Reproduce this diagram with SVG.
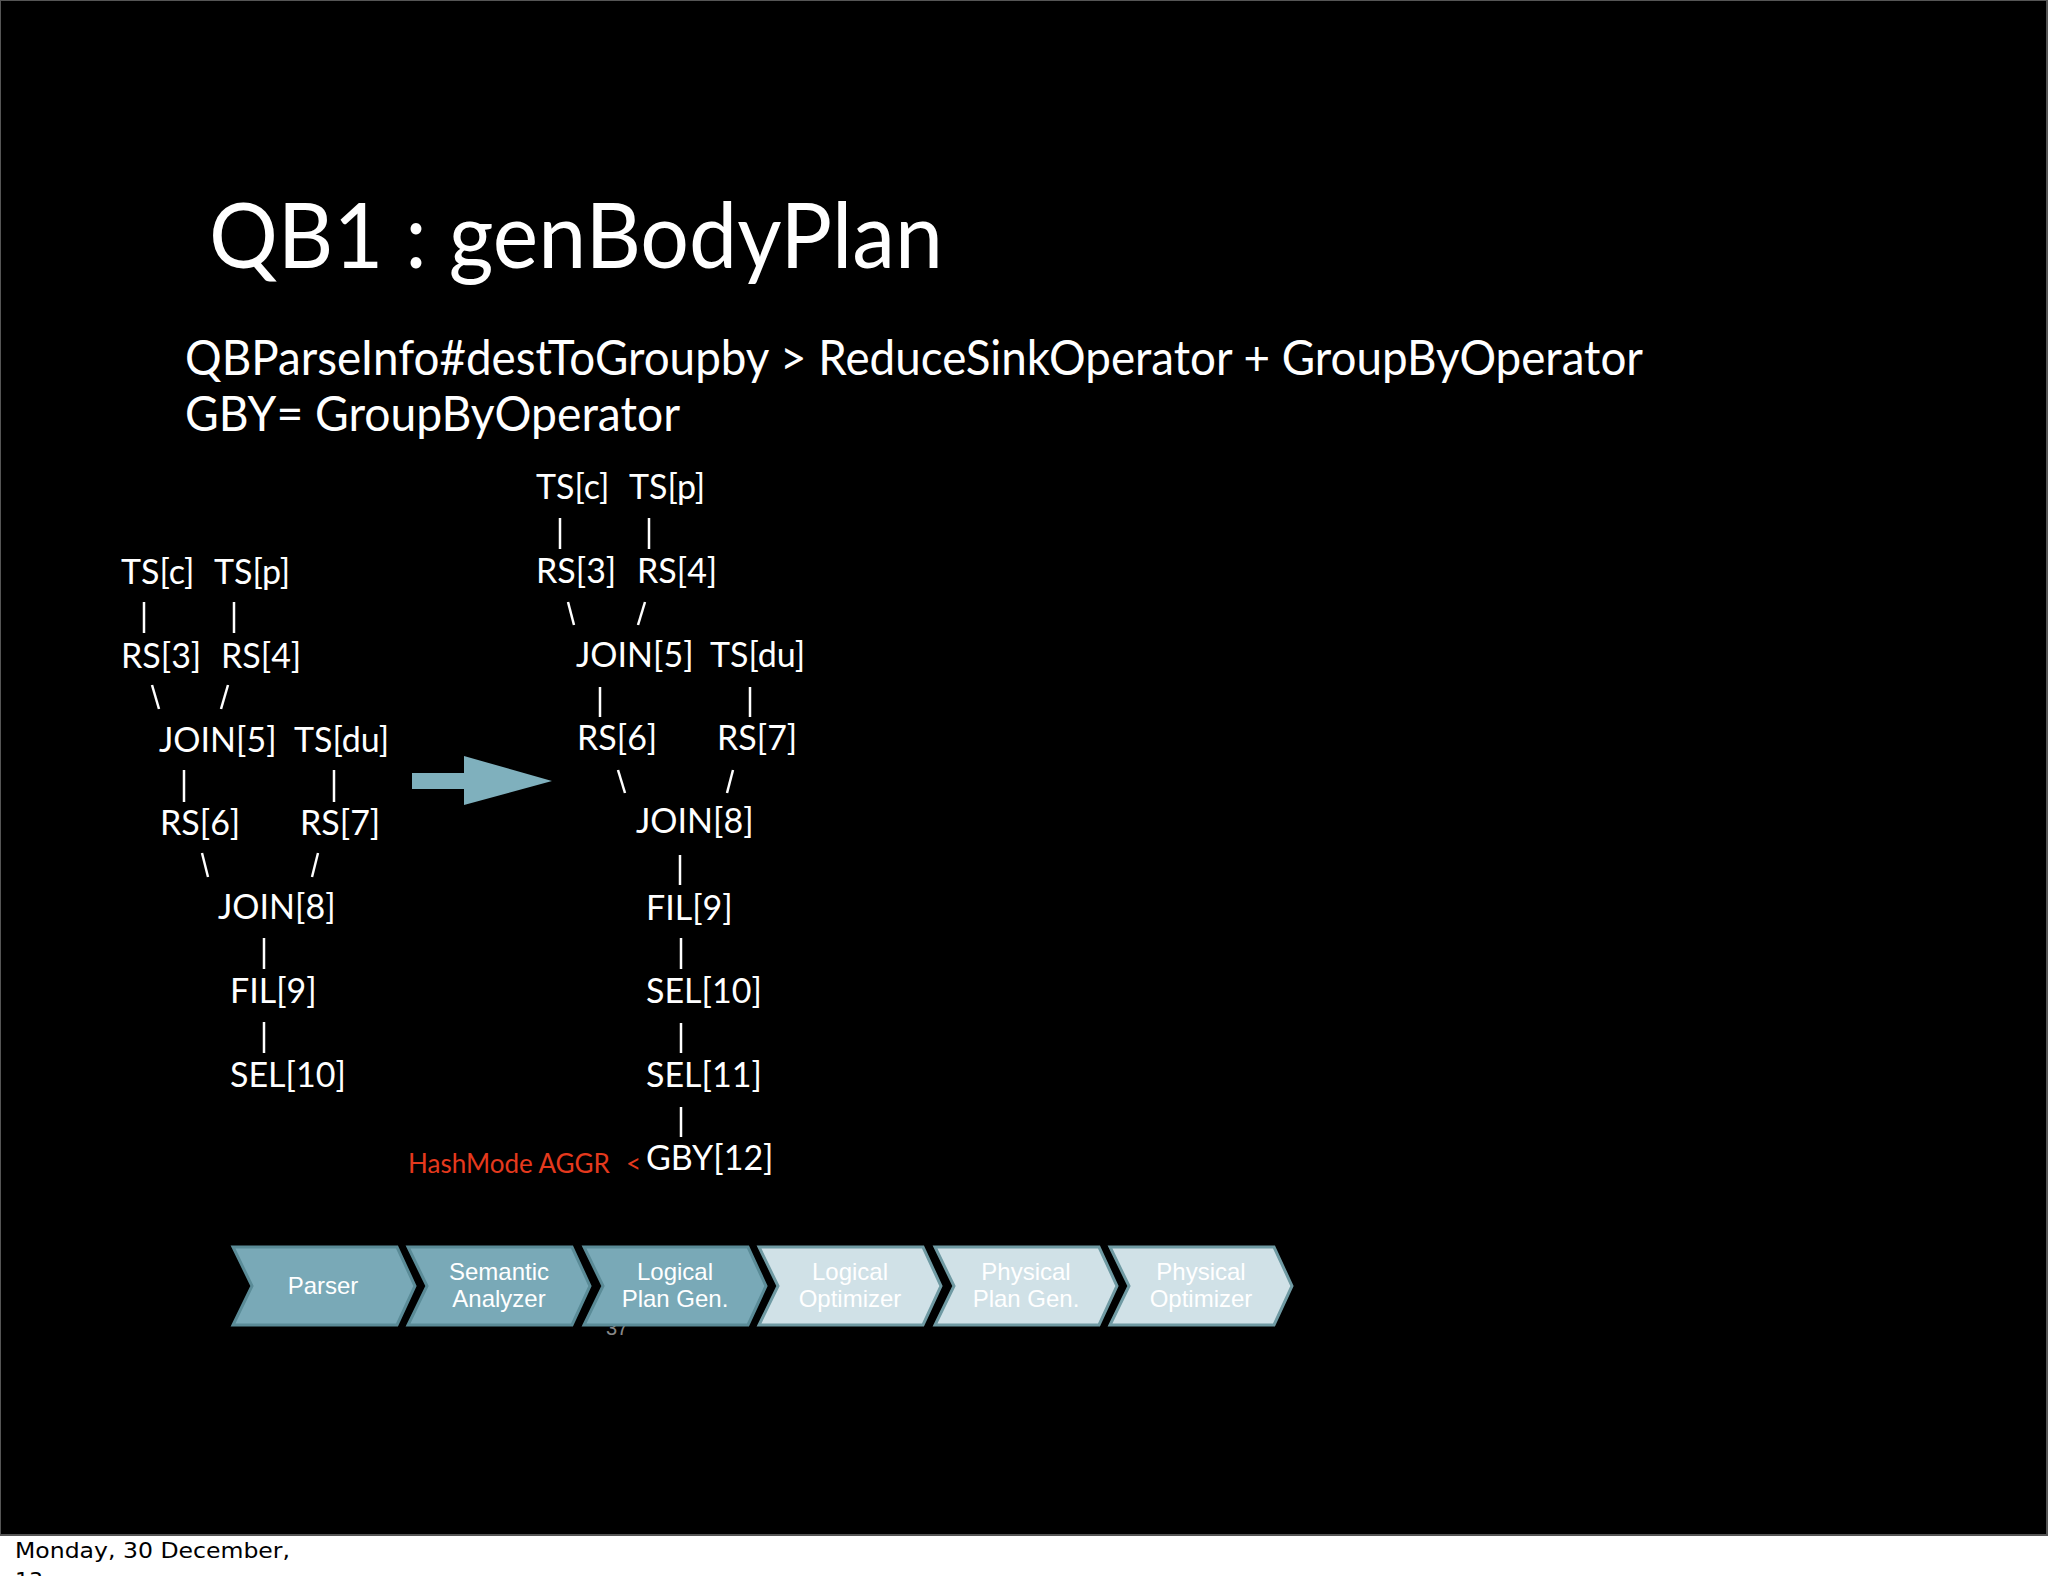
<svg xmlns="http://www.w3.org/2000/svg" width="2048" height="1576" viewBox="0 0 2048 1576">
<style>
.t{font-family:Lato,"Open Sans","DejaVu Sans",sans-serif;fill:#ffffff}
.n{font-family:Lato,"Open Sans","DejaVu Sans",sans-serif;fill:#ffffff;font-size:34px}
.c{stroke:#ffffff;stroke-width:2.5;fill:none}
.cd{fill:#79a9b7;stroke:#5a8b97;stroke-width:3}
.cl{fill:#d0e1e7;stroke:#6f9aa3;stroke-width:3}
.cx{font-family:"Liberation Sans",Arial,sans-serif;font-size:24px;fill:#ffffff;text-anchor:middle}
.red{font-family:Lato,"Open Sans",sans-serif;font-size:26px;fill:#e5391d}
</style>
<rect x="0" y="0" width="2048" height="1576" fill="#ffffff"/>
<rect x="0" y="0" width="2047" height="1535" fill="#000000" stroke="#555555" stroke-width="2"/>

<g id="title">
<text class="t" x="209" y="268" font-size="92" textLength="734" lengthAdjust="spacingAndGlyphs">QB1 : genBodyPlan</text>
<text class="t" x="185" y="375" font-size="48" textLength="1458" lengthAdjust="spacingAndGlyphs">QBParseInfo#destToGroupby &gt; ReduceSinkOperator + GroupByOperator</text>
<text class="t" x="185" y="431" font-size="48" textLength="495" lengthAdjust="spacingAndGlyphs">GBY= GroupByOperator</text>
</g>

<g id="left-tree">
<g id="l-ts-c"><text class="n" x="121" y="584">TS[c]</text></g>
<g id="l-ts-p"><text class="n" x="214" y="584">TS[p]</text></g>
<g id="l-rs3"><text class="n" x="121" y="668">RS[3]</text></g>
<g id="l-rs4"><text class="n" x="221" y="668">RS[4]</text></g>
<g id="l-join5"><text class="n" x="159" y="752">JOIN[5]</text></g>
<g id="l-ts-du"><text class="n" x="294" y="752">TS[du]</text></g>
<g id="l-rs6"><text class="n" x="160" y="835">RS[6]</text></g>
<g id="l-rs7"><text class="n" x="300" y="835">RS[7]</text></g>
<g id="l-join8"><text class="n" x="218" y="919">JOIN[8]</text></g>
<g id="l-fil9"><text class="n" x="230" y="1003">FIL[9]</text></g>
<g id="l-sel10"><text class="n" x="230" y="1087">SEL[10]</text></g>
</g>

<g id="right-tree">
<g id="r-ts-c"><text class="n" x="536" y="499">TS[c]</text></g>
<g id="r-ts-p"><text class="n" x="629" y="499">TS[p]</text></g>
<g id="r-rs3"><text class="n" x="536" y="583">RS[3]</text></g>
<g id="r-rs4"><text class="n" x="637" y="583">RS[4]</text></g>
<g id="r-join5"><text class="n" x="576" y="667">JOIN[5]</text></g>
<g id="r-ts-du"><text class="n" x="710" y="667">TS[du]</text></g>
<g id="r-rs6"><text class="n" x="577" y="750">RS[6]</text></g>
<g id="r-rs7"><text class="n" x="717" y="750">RS[7]</text></g>
<g id="r-join8"><text class="n" x="636" y="833">JOIN[8]</text></g>
<g id="r-fil9"><text class="n" x="646" y="920">FIL[9]</text></g>
<g id="r-sel10"><text class="n" x="646" y="1003">SEL[10]</text></g>
<g id="r-sel11"><text class="n" x="646" y="1087">SEL[11]</text></g>
<g id="r-gby12"><text class="n" x="646" y="1170" font-size="35">GBY[12]</text></g>
<g id="hash-note"><text class="red" x="408" y="1173">HashMode AGGR</text><text class="red" x="626" y="1173">&lt;</text></g>
</g>

<g id="connectors">
<line class="c" x1="144" y1="602" x2="144" y2="633"/>
<line class="c" x1="234" y1="602" x2="234" y2="633"/>
<line class="c" x1="152" y1="685" x2="159" y2="709"/>
<line class="c" x1="228" y1="685" x2="221" y2="709"/>
<line class="c" x1="184" y1="770" x2="184" y2="802"/>
<line class="c" x1="334" y1="770" x2="334" y2="802"/>
<line class="c" x1="202" y1="853" x2="208" y2="877"/>
<line class="c" x1="318" y1="853" x2="312" y2="877"/>
<line class="c" x1="264" y1="938" x2="264" y2="969"/>
<line class="c" x1="264" y1="1022" x2="264" y2="1053"/>

<line class="c" x1="560" y1="518" x2="560" y2="549"/>
<line class="c" x1="649" y1="518" x2="649" y2="549"/>
<line class="c" x1="568" y1="602" x2="574" y2="625"/>
<line class="c" x1="645" y1="602" x2="638" y2="625"/>
<line class="c" x1="600" y1="687" x2="600" y2="717"/>
<line class="c" x1="750" y1="687" x2="750" y2="717"/>
<line class="c" x1="618" y1="770" x2="625" y2="793"/>
<line class="c" x1="733" y1="770" x2="727" y2="793"/>
<line class="c" x1="680" y1="855" x2="680" y2="885"/>
<line class="c" x1="681" y1="938" x2="681" y2="969"/>
<line class="c" x1="681" y1="1023" x2="681" y2="1053"/>
<line class="c" x1="681" y1="1107" x2="681" y2="1137"/>

<polygon id="transform-arrow" points="412,773 464,773 464,756 552,781 464,805 464,789 412,789" fill="#7fb0bd"/>
</g>

<text x="617" y="1335" font-family="'Liberation Sans',Arial,sans-serif" font-size="20" fill="#888888" text-anchor="middle">37</text>

<g id="pipeline">
<g id="stage-parser"><path class="cd" d="M233,1247 L397,1247 L415,1286 L397,1325 L233,1325 L252,1286 Z"/><text class="cx" x="323" y="1294">Parser</text></g>
<g id="stage-semantic"><path class="cd" d="M408,1247 L572,1247 L590,1286 L572,1325 L408,1325 L427,1286 Z"/><text class="cx" x="499" y="1280">Semantic</text><text class="cx" x="499" y="1307">Analyzer</text></g>
<g id="stage-logical-gen"><path class="cd" d="M584,1247 L748,1247 L766,1286 L748,1325 L584,1325 L603,1286 Z"/><text class="cx" x="675" y="1280">Logical</text><text class="cx" x="675" y="1307">Plan Gen.</text></g>
<g id="stage-logical-opt"><path class="cl" d="M759,1247 L923,1247 L941,1286 L923,1325 L759,1325 L778,1286 Z"/><text class="cx" x="850" y="1280">Logical</text><text class="cx" x="850" y="1307">Optimizer</text></g>
<g id="stage-physical-gen"><path class="cl" d="M935,1247 L1099,1247 L1117,1286 L1099,1325 L935,1325 L954,1286 Z"/><text class="cx" x="1026" y="1280">Physical</text><text class="cx" x="1026" y="1307">Plan Gen.</text></g>
<g id="stage-physical-opt"><path class="cl" d="M1110,1247 L1274,1247 L1292,1286 L1274,1325 L1110,1325 L1129,1286 Z"/><text class="cx" x="1201" y="1280">Physical</text><text class="cx" x="1201" y="1307">Optimizer</text></g>
</g>

<g id="footer">
<text x="15" y="1558" font-family="'DejaVu Sans',sans-serif" font-size="22" fill="#000000" textLength="275" lengthAdjust="spacingAndGlyphs">Monday, 30 December,</text>
<text x="15" y="1588" font-family="'DejaVu Sans',sans-serif" font-size="22" fill="#000000">13</text>
</g>
</svg>
